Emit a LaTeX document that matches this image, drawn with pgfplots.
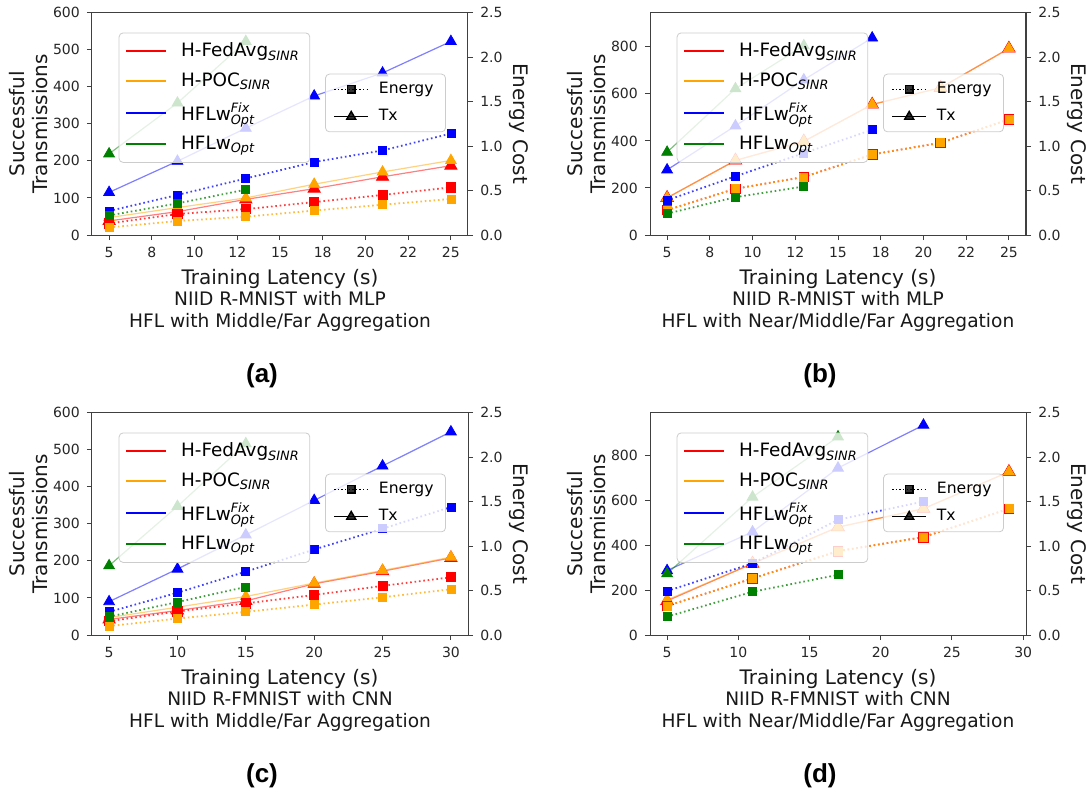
\documentclass[border=0pt]{standalone}
\usepackage{amsmath}
\usepackage{fontspec}
\setmainfont{DejaVu Sans}
\newfontfamily\labfont{Liberation Sans}
\usepackage{pgfplots}
\pgfplotsset{compat=1.18}

\definecolor{mplorange}{HTML}{FFA500}
\definecolor{mplgreen}{HTML}{008000}

\pgfplotsset{
  panel/.style={scale only axis, width=188pt, height=111.25pt, ymin=0,
    tick align=outside, major tick length=2.6pt,
    axis line style={black!75, line width=0.5pt},
    tick style={black!75, line width=0.5pt},
    tick label style={font=\fontsize{7}{8}\selectfont, text=black!85},
    label style={font=\fontsize{10}{11.5}\selectfont, text=black!90},
    /pgf/number format/assume math mode=true},
  leftax/.style={panel, xtick pos=left, ytick pos=left,
    ylabel={Successful\\Transmissions}, ylabel style={align=center}, ylabel shift=-4.5pt,
    xlabel={Training Latency (s)}, xlabel shift=-1pt},
  rightax/.style={panel, axis x line=none, axis y line*=right,
    ymax=2.5, ytick={0,0.5,...,2.5},
    yticklabel style={/pgf/number format/.cd, fixed, fixed zerofill, precision=1},
    ylabel={Energy Cost}, ylabel style={rotate=180}, ylabel shift=-3.5pt,
    legend cell align=left,
    legend style={at={(0.071,0.91)}, anchor=north west, draw=black!20,
      rounded corners=2pt, fill=white, fill opacity=0.8, text opacity=1,
      font=\fontsize{9.2}{11}\selectfont, row sep=2.5pt, inner ysep=3pt, inner xsep=3pt,
      /tikz/every odd column/.append style={column sep=5pt}},
    legend image code/.code={\draw[#1] (0pt,0pt) -- (20pt,0pt);}},
  legax/.style={panel, hide axis, xmin=0, xmax=1, ymax=1,
    legend cell align=left,
    legend style={at={(0.62,0.725)}, anchor=north west, draw=black!20,
      rounded corners=2pt, fill=white, fill opacity=0.8, text opacity=1,
      font=\fontsize{7.8}{9}\selectfont, row sep=2.5pt, inner xsep=4pt,
      /tikz/every odd column/.append style={column sep=3pt}},
    legend image code/.code={\draw[mark repeat=2, mark phase=2, #1]
      plot coordinates {(0pt,0pt) (8.5pt,0pt) (17pt,0pt)};}},
  tx/.style={solid, line width=0.6pt, draw opacity=0.5, mark=triangle*, mark size=3.1pt,
    mark options={solid, draw opacity=1, fill opacity=1, line width=0.4pt}},
  en/.style={forget plot, line width=0.9pt, dash pattern=on 0.8pt off 1.4pt, draw opacity=0.75,
    mark=square*, mark size=2pt,
    mark options={solid, draw opacity=1, fill opacity=1, line width=0.4pt}},
}

\begin{document}
\begin{tikzpicture}
\useasboundingbox (0,0) rectangle (544.5pt,-397pt);

% ---------------- (a) ----------------
\begin{axis}[leftax, at={(46pt,-117.5pt)}, anchor=south west,
  xmin=4, xmax=26, ymax=600, ytick={0,100,...,600},
  xtick={5,7.5,...,25}, xticklabels={5,8,10,12,15,18,20,22,25}]
\addplot[tx, red, mark size=3.5pt] coordinates {(5,38)(9,63)(13,96)(17,125)(21,157)(25,187)};
\addplot[tx, mplorange] coordinates {(5,47)(9,74)(13,100)(17,137)(21,170)(25,201)};
\addplot[tx, blue] coordinates {(5,115)(9,199)(13,288)(17,375)(21,437)(25,522)};
\addplot[tx, mplgreen] coordinates {(5,219)(9,356)(13,522)};
\end{axis}
\begin{axis}[rightax, at={(46pt,-117.5pt)}, anchor=south west, xmin=4, xmax=26]
\addlegendimage{red, line width=1pt}\addlegendentry{H-FedAvg$_{\text{\itshape SINR}}$}
\addlegendimage{mplorange, line width=1pt}\addlegendentry{H-POC$_{\text{\itshape SINR}}$}
\addlegendimage{blue, line width=1pt}\addlegendentry{HFLw$^{\text{\itshape Fix}}_{\text{\itshape Opt}}$}
\addlegendimage{mplgreen, line width=1pt}\addlegendentry{HFLw$_{\text{\itshape Opt}}$}
\addplot[en, red, mark size=2.3pt] coordinates {(5,0.13)(9,0.236)(13,0.29)(17,0.37)(21,0.45)(25,0.535)};
\addplot[en, mplorange] coordinates {(5,0.085)(9,0.157)(13,0.206)(17,0.275)(21,0.34)(25,0.405)};
\addplot[en, blue] coordinates {(5,0.27)(9,0.45)(13,0.635)(17,0.82)(21,0.95)(25,1.14)};
\addplot[en, mplgreen] coordinates {(5,0.22)(9,0.355)(13,0.51)};
\end{axis}
\begin{axis}[legax, at={(46pt,-117.5pt)}, anchor=south west]
\addlegendimage{black, line width=0.6pt, dash pattern=on 0.7pt off 1.1pt, mark=square*, mark size=1.9pt, mark options={solid}}
\addlegendentry{Energy}
\addlegendimage{black, line width=0.7pt, mark=triangle*, mark size=2.6pt}
\addlegendentry{Tx}
\end{axis}

% ---------------- (b) ----------------
\begin{axis}[leftax, at={(325pt,-117.5pt)}, anchor=south west,
  xmin=4, xmax=26, ymax=946, ytick={0,200,...,800},
  xtick={5,7.5,...,25}, xticklabels={5,8,10,12,15,18,20,22,25}]
\addplot[tx, red, mark size=3.6pt] coordinates {(5,158)(9,317)(13,398)(17,555)(21,626)(25,793)};
\addplot[tx, mplorange] coordinates {(5,158)(9,317)(13,398)(17,555)(21,626)(25,793)};
\addplot[tx, blue] coordinates {(5,277)(9,464)(13,660)(17,838)};
\addplot[tx, mplgreen] coordinates {(5,352)(9,622)(13,805)};
\end{axis}
\begin{axis}[rightax, at={(325pt,-117.5pt)}, anchor=south west, xmin=4, xmax=26]
\addlegendimage{red, line width=1pt}\addlegendentry{H-FedAvg$_{\text{\itshape SINR}}$}
\addlegendimage{mplorange, line width=1pt}\addlegendentry{H-POC$_{\text{\itshape SINR}}$}
\addlegendimage{blue, line width=1pt}\addlegendentry{HFLw$^{\text{\itshape Fix}}_{\text{\itshape Opt}}$}
\addlegendimage{mplgreen, line width=1pt}\addlegendentry{HFLw$_{\text{\itshape Opt}}$}
\addplot[en, red, mark size=2.4pt] coordinates {(5,0.28)(9,0.52)(13,0.652)(17,0.905)(21,1.036)(25,1.3)};
\addplot[en, mplorange] coordinates {(5,0.28)(9,0.52)(13,0.652)(17,0.905)(21,1.036)(25,1.3)};
\addplot[en, blue] coordinates {(5,0.39)(9,0.66)(13,0.92)(17,1.182)};
\addplot[en, mplgreen] coordinates {(5,0.24)(9,0.425)(13,0.545)};
\end{axis}
\begin{axis}[legax, at={(325pt,-117.5pt)}, anchor=south west]
\addlegendimage{black, line width=0.6pt, dash pattern=on 0.7pt off 1.1pt, mark=square*, mark size=1.9pt, mark options={solid}}
\addlegendentry{Energy}
\addlegendimage{black, line width=0.7pt, mark=triangle*, mark size=2.6pt}
\addlegendentry{Tx}
\end{axis}

% ---------------- (c) ----------------
\begin{axis}[leftax, at={(46pt,-317.5pt)}, anchor=south west,
  xmin=3.75, xmax=31.25, ymax=600, ytick={0,100,...,600}, xtick={5,10,...,30}]
\addplot[tx, red, mark size=3.5pt] coordinates {(5,42)(10,66)(15,92)(20,138)(25,172)(30,208)};
\addplot[tx, mplorange] coordinates {(5,47)(10,75)(15,104)(20,140)(25,174)(30,210)};
\addplot[tx, blue] coordinates {(5,90)(10,178)(15,270)(20,363)(25,456)(30,548)};
\addplot[tx, mplgreen] coordinates {(5,187)(10,347)(15,516)};
\end{axis}
\begin{axis}[rightax, at={(46pt,-317.5pt)}, anchor=south west, xmin=3.75, xmax=31.25]
\addlegendimage{red, line width=1pt}\addlegendentry{H-FedAvg$_{\text{\itshape SINR}}$}
\addlegendimage{mplorange, line width=1pt}\addlegendentry{H-POC$_{\text{\itshape SINR}}$}
\addlegendimage{blue, line width=1pt}\addlegendentry{HFLw$^{\text{\itshape Fix}}_{\text{\itshape Opt}}$}
\addlegendimage{mplgreen, line width=1pt}\addlegendentry{HFLw$_{\text{\itshape Opt}}$}
\addplot[en, red, mark size=2.3pt] coordinates {(5,0.155)(10,0.265)(15,0.355)(20,0.45)(25,0.552)(30,0.649)};
\addplot[en, mplorange] coordinates {(5,0.10)(10,0.185)(15,0.26)(20,0.342)(25,0.424)(30,0.514)};
\addplot[en, blue] coordinates {(5,0.26)(10,0.475)(15,0.712)(20,0.961)(25,1.194)(30,1.438)};
\addplot[en, mplgreen] coordinates {(5,0.206)(10,0.37)(15,0.54)};
\end{axis}
\begin{axis}[legax, at={(46pt,-317.5pt)}, anchor=south west]
\addlegendimage{black, line width=0.6pt, dash pattern=on 0.7pt off 1.1pt, mark=square*, mark size=1.9pt, mark options={solid}}
\addlegendentry{Energy}
\addlegendimage{black, line width=0.7pt, mark=triangle*, mark size=2.6pt}
\addlegendentry{Tx}
\end{axis}

% ---------------- (d) ----------------
\begin{axis}[leftax, at={(325pt,-317.5pt)}, anchor=south west,
  xmin=3.8, xmax=30.2, ymax=990, ytick={0,200,...,800}, xtick={5,10,...,30}]
\addplot[tx, red, mark size=3.6pt] coordinates {(5,152)(11,318)(17,480)(23,562)(29,726)};
\addplot[tx, mplorange] coordinates {(5,156)(11,318)(17,480)(23,562)(29,726)};
\addplot[tx, blue] coordinates {(5,287)(11,459)(17,743)(23,934)};
\addplot[tx, mplgreen] coordinates {(5,273)(11,614)(17,882)};
\end{axis}
\begin{axis}[rightax, at={(325pt,-317.5pt)}, anchor=south west, xmin=3.8, xmax=30.2]
\addlegendimage{red, line width=1pt}\addlegendentry{H-FedAvg$_{\text{\itshape SINR}}$}
\addlegendimage{mplorange, line width=1pt}\addlegendentry{H-POC$_{\text{\itshape SINR}}$}
\addlegendimage{blue, line width=1pt}\addlegendentry{HFLw$^{\text{\itshape Fix}}_{\text{\itshape Opt}}$}
\addlegendimage{mplgreen, line width=1pt}\addlegendentry{HFLw$_{\text{\itshape Opt}}$}
\addplot[en, red, mark size=2.4pt] coordinates {(5,0.326)(11,0.636)(17,0.942)(23,1.1)(29,1.419)};
\addplot[en, mplorange] coordinates {(5,0.326)(11,0.636)(17,0.942)(23,1.1)(29,1.419)};
\addplot[en, blue] coordinates {(5,0.494)(11,0.805)(17,1.295)(23,1.5)};
\addplot[en, mplgreen] coordinates {(5,0.206)(11,0.486)(17,0.676)};
\end{axis}
\begin{axis}[legax, at={(325pt,-317.5pt)}, anchor=south west]
\addlegendimage{black, line width=0.6pt, dash pattern=on 0.7pt off 1.1pt, mark=square*, mark size=1.9pt, mark options={solid}}
\addlegendentry{Energy}
\addlegendimage{black, line width=0.7pt, mark=triangle*, mark size=2.6pt}
\addlegendentry{Tx}
\end{axis}

% captions
\begin{scope}[every node/.style={anchor=base, font=\fontsize{9.3}{11}\selectfont, text=black!90}]
\node at (140pt,-152.5pt) {NIID R-MNIST with MLP};
\node at (140pt,-163.5pt) {HFL with Middle/Far Aggregation};
\node at (419pt,-152.5pt) {NIID R-MNIST with MLP};
\node at (419pt,-163.5pt) {HFL with Near/Middle/Far Aggregation};
\node at (140pt,-352.5pt) {NIID R-FMNIST with CNN};
\node at (140pt,-363.5pt) {HFL with Middle/Far Aggregation};
\node at (419pt,-352.5pt) {NIID R-FMNIST with CNN};
\node at (419pt,-363.5pt) {HFL with Near/Middle/Far Aggregation};
\end{scope}
\begin{scope}[every node/.style={anchor=base, font=\labfont\fontsize{13}{15}\selectfont\bfseries}]
\node at (131pt,-191pt) {(a)};
\node at (410pt,-191pt) {(b)};
\node at (131pt,-391pt) {(c)};
\node at (410pt,-391pt) {(d)};
\end{scope}
\end{tikzpicture}
\end{document}
